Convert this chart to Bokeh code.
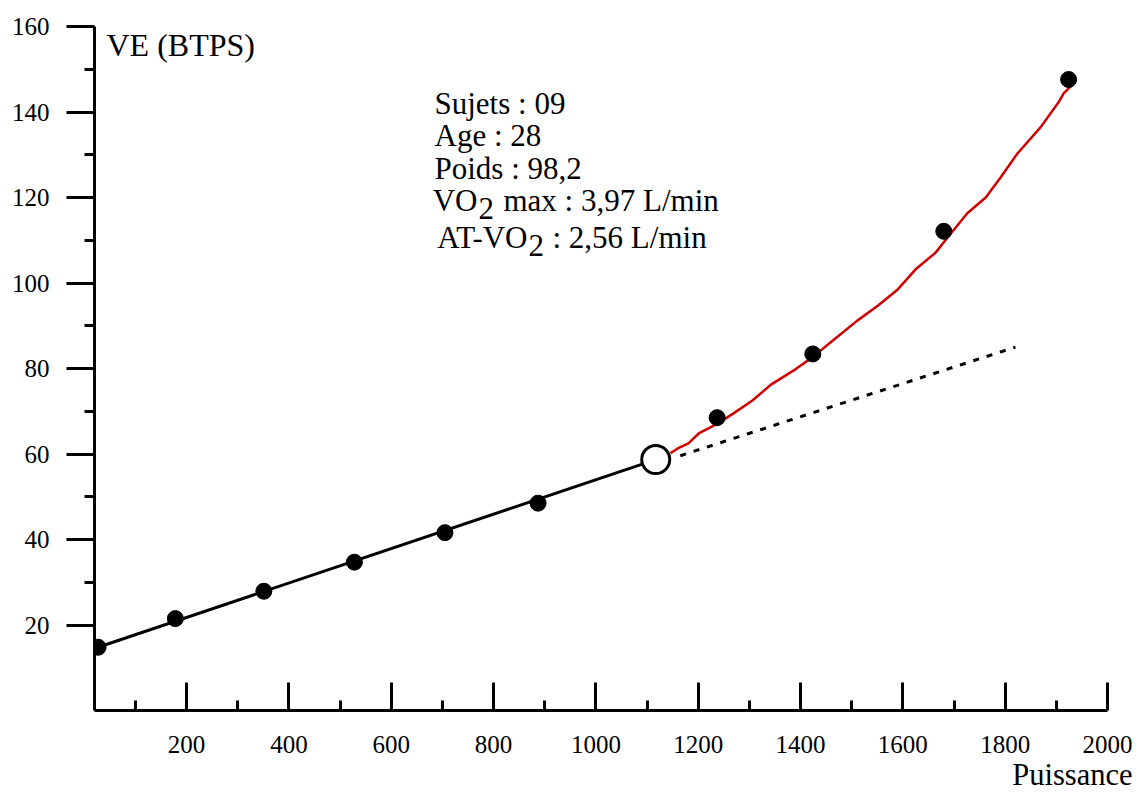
from bokeh.plotting import figure
from bokeh.models import LinearAxis, FixedTicker, Label, Title
from bokeh.embed import file_html
from bokeh.resources import INLINE

# ---------------- data ----------------
# measured points below the threshold (linear part)
power_lin = [27, 178, 351, 528, 705, 887]
ve_lin = [14.8, 21.5, 27.9, 34.7, 41.6, 48.5]
# ventilatory threshold (open circle)
threshold_power = [1117]
threshold_ve = [58.7]
# measured points above the threshold
power_high = [1237, 1424, 1680, 1924]
ve_high = [68.5, 83.4, 112.1, 147.6]
# red curve above threshold
curve_power = [1146, 1160, 1181, 1201, 1238, 1269, 1306, 1343, 1390, 1423, 1468,
               1511, 1551, 1590, 1625, 1664, 1687, 1726, 1762, 1791, 1824, 1869,
               1904, 1914, 1928]
curve_ve = [60.2, 61.3, 62.5, 64.8, 67.1, 69.5, 72.5, 76.3, 79.8, 82.6, 87.0,
            91.2, 94.7, 98.5, 103.2, 107.1, 110.6, 116.3, 120.0, 124.7, 130.3, 136.4,
            142.2, 144.3, 146.0]
# extrapolation of linear part (dotted)
extrap_power = [1165, 1820]
extrap_ve = [59.6, 85.0]

x_major = [200, 400, 600, 800, 1000, 1200, 1400, 1600, 1800, 2000]
x_minor = [100, 300, 500, 700, 900, 1100, 1300, 1500, 1700, 1900]
y_major = [20, 40, 60, 80, 100, 120, 140, 160]
y_minor = [30, 50, 70, 90, 110, 130, 150]

info_lines = ["Sujets : 09", "Age : 28", "Poids : 98,2"]
x_title = "Puissance"
y_title = "VE (BTPS)"

FONT = "Liberation Serif"

# ---------------- layout ----------------
W, H = 1145, 797
X0, X1 = 20, 2000
Y0, Y1 = 0, 160
FL, FR, FT, FB = 94, 1107, 26, 710   # frame in canvas px

def px_x(cx):
    return X0 + (cx - FL) * (X1 - X0) / (FR - FL)

def px_y(cy):
    return Y0 + (FB - cy) * (Y1 - Y0) / (FB - FT)

p = figure(width=W, height=H, x_range=(X0, X1), y_range=(Y0, Y1),
           x_axis_type=None, y_axis_type=None,
           output_backend="svg", toolbar_location=None,
           min_border_left=FL, min_border_right=W - FR,
           min_border_top=FT, min_border_bottom=H - FB)
p.outline_line_color = None
p.background_fill_color = "white"
p.border_fill_color = "white"

xaxis = LinearAxis(ticker=FixedTicker(ticks=x_major, minor_ticks=x_minor))
xaxis.major_tick_in = 28
xaxis.major_tick_out = 0
xaxis.minor_tick_in = 10
xaxis.minor_tick_out = 0
xaxis.axis_line_width = 3
xaxis.major_tick_line_width = 3
xaxis.minor_tick_line_width = 3
xaxis.major_label_text_font = FONT
xaxis.major_label_text_font_size = "25px"
xaxis.major_label_text_color = "black"
xaxis.major_label_standoff = 25
p.add_layout(xaxis, "below")

yaxis = LinearAxis(ticker=FixedTicker(ticks=y_major, minor_ticks=y_minor))
yaxis.major_tick_in = 0
yaxis.major_tick_out = 28
yaxis.minor_tick_in = 0
yaxis.minor_tick_out = 10
yaxis.axis_line_width = 3
yaxis.major_tick_line_width = 3
yaxis.minor_tick_line_width = 3
yaxis.major_label_text_font = FONT
yaxis.major_label_text_font_size = "25px"
yaxis.major_label_text_color = "black"
yaxis.major_label_standoff = 17
p.add_layout(yaxis, "left")

# x-axis title below the tick labels, right aligned past the frame edge
p.add_layout(Title(text=x_title, align="right", offset=-25, standoff=0,
                   text_font=FONT, text_font_size="30.5px",
                   text_font_style="normal", text_color="black"), "below")

# linear part line
p.line([power_lin[0], threshold_power[0]], [ve_lin[0], threshold_ve[0]],
       line_color="black", line_width=3)
# extrapolation dotted
p.line(extrap_power, extrap_ve, line_color="black", line_width=3, line_dash="6 8")
# red curve
p.line(curve_power, curve_ve, line_color="#d00000", line_width=2.5)
# points
p.scatter(power_lin + power_high, ve_lin + ve_high, size=16, color="black")
p.scatter(threshold_power, threshold_ve, size=28, fill_color="white",
          line_color="black", line_width=3)

# ---------------- texts ----------------
def add_main(txt, cx, baseline, size=31, align="left"):
    mid = baseline - 0.3375 * size
    p.add_layout(Label(x=px_x(cx), y=px_y(mid), text=txt,
                       text_font=FONT, text_font_size=f"{size}px", text_color="black",
                       text_align=align, text_baseline="middle"))

add_main(y_title, 106, 55, size=32)

tx = 434
baselines = [113, 145, 178]
for line, b in zip(info_lines, baselines):
    add_main(line, tx, b)

# VO2 max line (subscript 2 lowered)
add_main("VO", 477, 210, align="right")
add_main("2", 478, 218)
add_main("max : 3,97 L/min", 503, 210)
# AT-VO2 line
add_main("AT-VO", 527, 247, align="right")
add_main("2", 528, 255)
add_main(": 2,56 L/min", 552, 247)

open("out.html", "w").write(file_html(p, INLINE))
